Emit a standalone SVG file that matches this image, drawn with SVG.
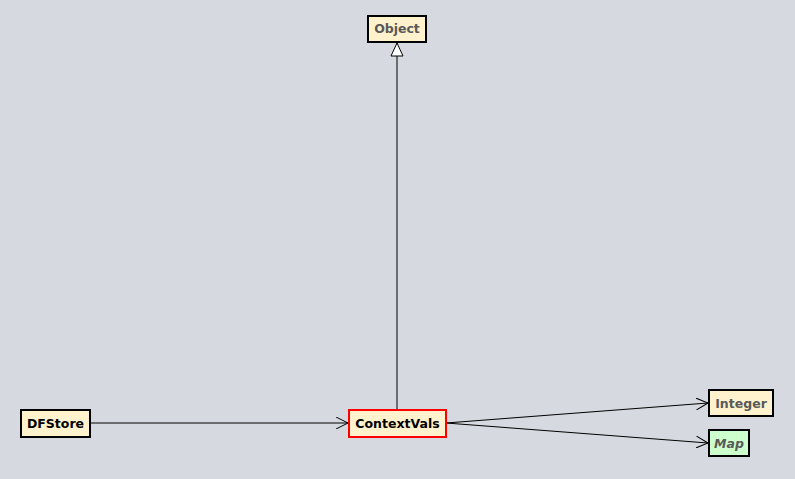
<svg xmlns="http://www.w3.org/2000/svg" width="795" height="479" viewBox="0 0 795 479">
<defs>
<style>
.box{fill:#fff2cc;stroke:#000;stroke-width:2}
.iface{fill:#ccffcc;stroke:#000;stroke-width:2}
.sel{fill:#fff2cc;stroke:#ff0000;stroke-width:2}
.t{font-family:"DejaVu Sans",sans-serif;font-size:12.5px;font-weight:bold;text-anchor:middle}
.dim{fill:#595959}
.blk{fill:#000}
.edge{stroke:#000;stroke-width:1;fill:none}
</style>
<marker id="open" markerWidth="14" markerHeight="12" refX="12" refY="6" orient="auto" markerUnits="userSpaceOnUse">
<path d="M0,0 L12,6 L0,12" fill="none" stroke="#000" stroke-width="1"/>
</marker>
<marker id="tri" markerWidth="16" markerHeight="16" refX="14" refY="7" orient="auto" markerUnits="userSpaceOnUse">
<path d="M1,1 L14,7 L1,13 Z" fill="#fff" stroke="#000" stroke-width="1"/>
</marker>
</defs>
<rect width="795" height="479" fill="#d6d9e0"/>
<g id="connectors">
<line class="edge" x1="397" y1="410" x2="397" y2="43" marker-end="url(#tri)"/>
<line class="edge" x1="90" y1="423" x2="348" y2="423" marker-end="url(#open)"/>
<line class="edge" x1="446" y1="423" x2="708" y2="403" marker-end="url(#open)"/>
<line class="edge" x1="446" y1="423" x2="708" y2="443" marker-end="url(#open)"/>
</g>
<g id="Object">
<rect class="box" x="368" y="16" width="58" height="26"/>
<text class="t dim" x="397" y="33">Object</text>
</g>
<g id="ContextVals">
<rect class="sel" x="349" y="410" width="97" height="27"/>
<text class="t blk" x="397.5" y="428">ContextVals</text>
</g>
<g id="DFStore">
<rect class="box" x="21" y="410" width="69" height="27"/>
<text class="t blk" x="55.5" y="428">DFStore</text>
</g>
<g id="Integer">
<rect class="box" x="709" y="390" width="64" height="26"/>
<text class="t dim" x="741" y="408">Integer</text>
</g>
<g id="Map">
<rect class="iface" x="709" y="430" width="40" height="26"/>
<text class="t dim" x="729" y="448" font-style="italic">Map</text>
</g>
</svg>
